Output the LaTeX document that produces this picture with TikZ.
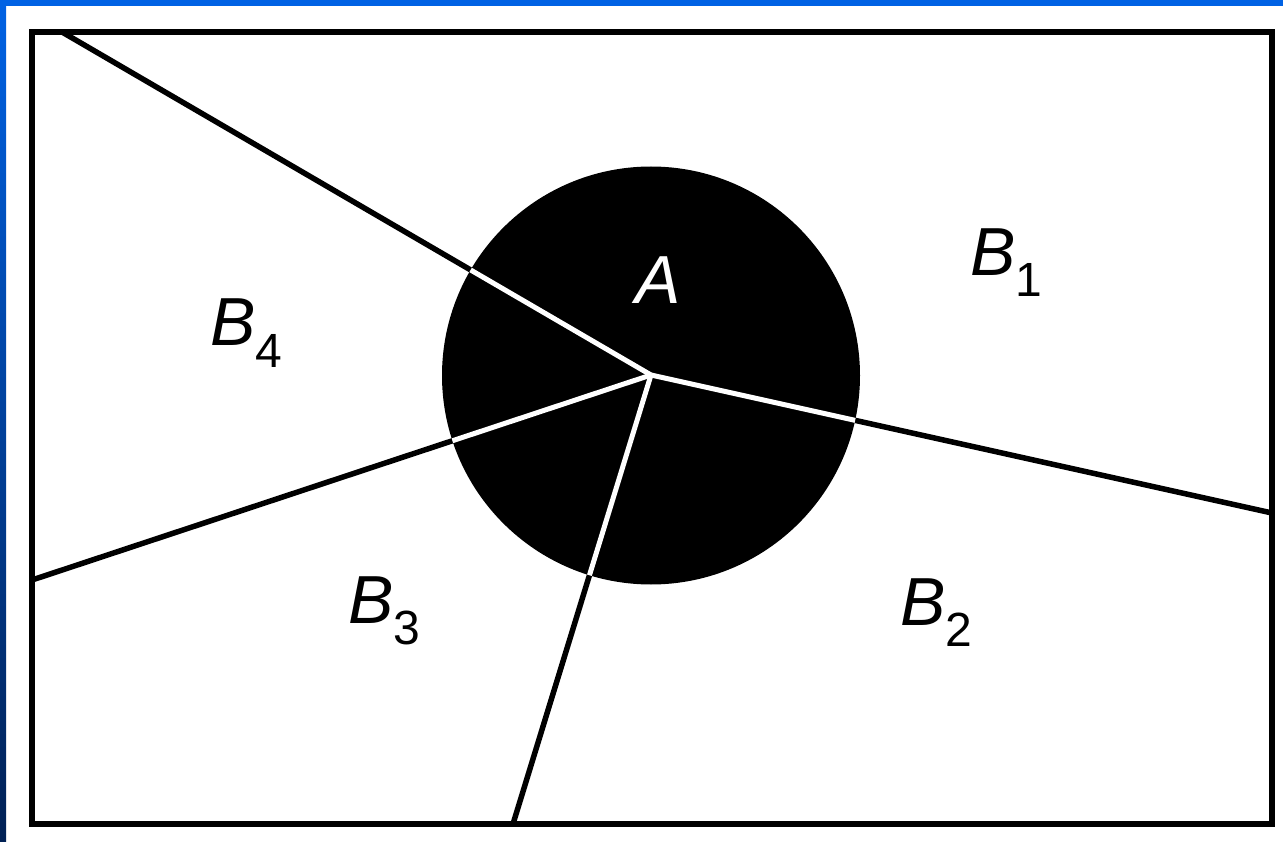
\documentclass[tikz,border=0pt]{standalone}
\usepackage{fontspec}
\setmainfont{Liberation Sans}
\definecolor{topblue}{RGB}{0,98,228}
\definecolor{botblue}{RGB}{0,32,84}
\newcommand{\mysub}[1]{\raisebox{-21pt}{\upshape\fontsize{48}{50}\selectfont #1}}
\begin{document}
\begin{tikzpicture}[x=1pt,y=-1pt,
  border/.style={line width=6pt, line join=miter},
  blackline/.style={line width=5.5pt, black},
  whiteline/.style={line width=5pt, white},
  lab/.style={inner sep=0pt, anchor=base west, font=\fontsize{68}{80}\selectfont}]
\useasboundingbox (0,0) rectangle (1283,842);
\fill[white] (0,0) rectangle (1283,842);
\shade[top color=topblue, bottom color=botblue] (0,0) rectangle (6,842);
\fill[topblue] (0,0) rectangle (1283,6);
\draw[border] (32,32) rectangle (1272,824);
\coordinate (C) at (651,375);
\coordinate (E1) at (1272,513);
\coordinate (E2) at (513,824);
\coordinate (E3) at (32,580);
\coordinate (E4) at (62,32);
\foreach \e in {E1,E2,E3,E4} \draw[blackline] (C) -- (\e);
\node[circle, fill=black, minimum size=418pt, inner sep=0pt] (A) at (651,375.5) {};
\begin{scope}
  \clip (651,375.5) circle (209pt);
  \foreach \e in {E1,E2,E3,E4} \draw[whiteline] (C) -- (\e);
\end{scope}
\node[lab, text=white] (LA) at (635,304) {\itshape A};
\node[lab] (B1) at (970,276) {\itshape B\mysub{1}};
\node[lab] (B4) at (210,346) {\itshape B\mysub{4}};
\node[lab] (B3) at (348,623) {\itshape B\mysub{3}};
\node[lab] (B2) at (900,625) {\itshape B\mysub{2}};
\end{tikzpicture}
\end{document}
